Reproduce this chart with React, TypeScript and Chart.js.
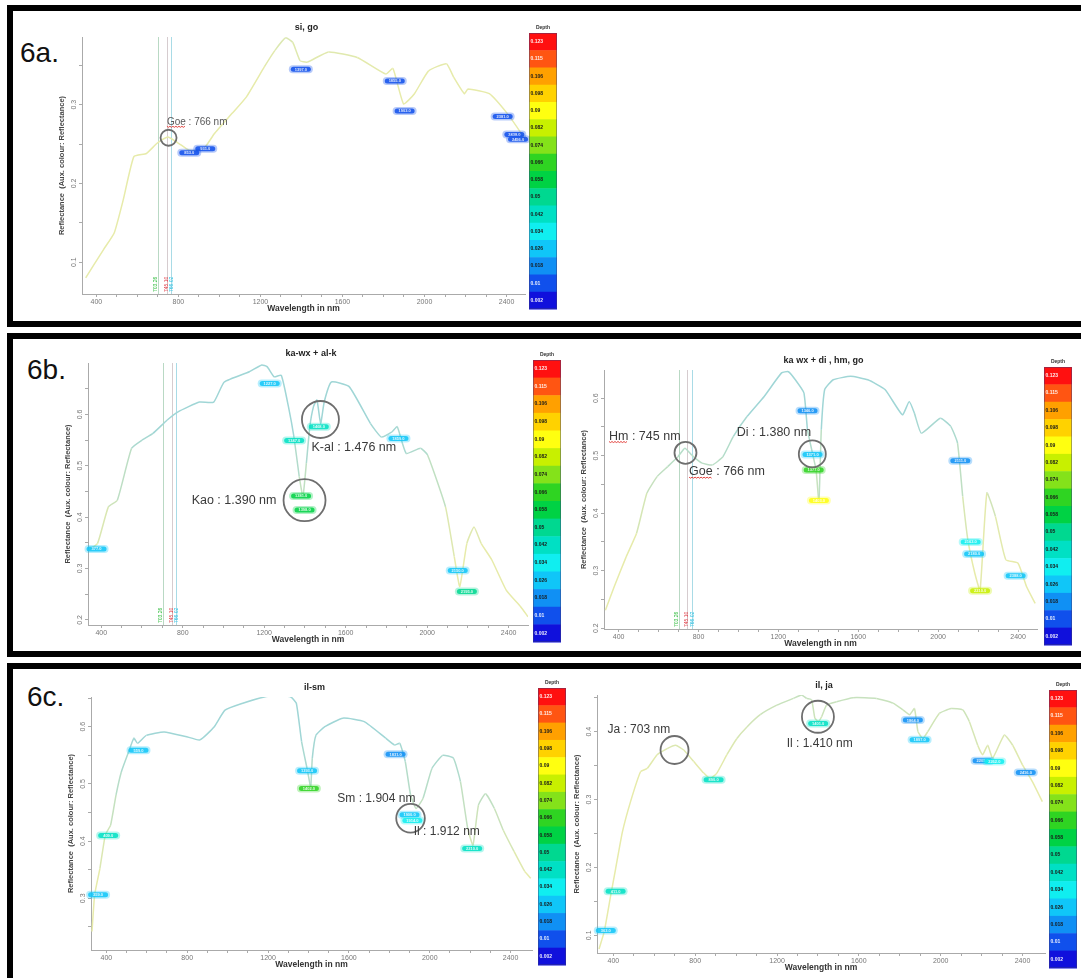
import React, { useEffect, useRef } from 'react';
import { Chart, registerables } from 'chart.js';

Chart.register(...registerables);

const FONT = "'Liberation Sans', Arial, Helvetica, sans-serif";

// ---------- shared axis / legend data ----------
const xTickValues = [400, 500, 600, 700, 800, 900, 1000, 1100, 1200, 1300, 1400, 1500, 1600, 1700, 1800, 1900, 2000, 2100, 2200, 2300, 2400];
const xLabelValues = [400, 800, 1200, 1600, 2000, 2400];

const depthLabels = ['0.123', '0.115', '0.106', '0.098', '0.09', '0.082', '0.074', '0.066', '0.058', '0.05', '0.042', '0.034', '0.026', '0.018', '0.01', '0.002'];
const depthValues = [0.123, 0.115, 0.106, 0.098, 0.09, 0.082, 0.074, 0.066, 0.058, 0.05, 0.042, 0.034, 0.026, 0.018, 0.01, 0.002];
const depthColors = ['#ff1010', '#ff5512', '#ffa000', '#ffd200', '#ffff10', '#c8f000', '#84e21a', '#2fd422', '#00d244', '#00d890', '#00e0c4', '#10eef0', '#10c6f8', '#1090f4', '#1050ec', '#1010dc'];

const vlineWaves = [703, 745, 766];
const vlineLabels = ['703.26', '745.10', '766.02'];
const vlineColors = ['#b9d9c4', '#d6cccf', '#a9dbe6'];
const vlineTextColors = ['#2dbb3a', '#e0303a', '#22bde0'];

// ---------- 6a : si, go ----------
const waveA = [348, 435, 487, 531, 583, 644, 696, 748, 801, 853, 923, 975, 1062, 1132, 1219, 1271, 1323, 1358, 1393, 1428, 1532, 1672, 1811, 1846, 1898, 1951, 2020, 2107, 2142, 2194, 2212, 2316, 2403, 2473, 2490];
const reflA = [0.080, 0.116, 0.137, 0.179, 0.234, 0.238, 0.251, 0.259, 0.251, 0.242, 0.244, 0.263, 0.289, 0.310, 0.348, 0.369, 0.385, 0.379, 0.356, 0.354, 0.367, 0.360, 0.339, 0.346, 0.301, 0.314, 0.343, 0.352, 0.335, 0.314, 0.320, 0.314, 0.289, 0.263, 0.255];
const featWaveA = [853, 931, 1397, 1855, 1903, 2381, 2438, 2456];
const featReflA = [0.239, 0.244, 0.345, 0.330, 0.292, 0.285, 0.262, 0.256];
const featDepthA = [0.01, 0.01, 0.01, 0.01, 0.01, 0.01, 0.01, 0.01];

// ---------- 6b left : ka-wx + al-k ----------
const waveBL = [339, 382, 435, 479, 549, 601, 654, 724, 777, 882, 952, 1004, 1127, 1188, 1214, 1249, 1284, 1319, 1346, 1372, 1390, 1407, 1424, 1442, 1459, 1477, 1495, 1530, 1617, 1722, 1775, 1827, 1853, 1897, 1967, 2002, 2090, 2133, 2160, 2195, 2230, 2265, 2317, 2388, 2458, 2495];
const reflBL = [0.336, 0.349, 0.420, 0.433, 0.534, 0.550, 0.563, 0.589, 0.605, 0.624, 0.624, 0.663, 0.683, 0.696, 0.693, 0.673, 0.676, 0.615, 0.556, 0.479, 0.440, 0.505, 0.576, 0.615, 0.628, 0.582, 0.625, 0.663, 0.654, 0.582, 0.556, 0.566, 0.576, 0.524, 0.534, 0.521, 0.420, 0.323, 0.265, 0.349, 0.381, 0.349, 0.317, 0.258, 0.226, 0.206];
const featWaveBL = [377, 1227, 1347, 1468, 1381, 1398, 1859, 2150, 2195];
const featReflBL = [0.338, 0.660, 0.549, 0.576, 0.441, 0.414, 0.553, 0.296, 0.255];
const featDepthBL = [0.026, 0.026, 0.042, 0.042, 0.058, 0.058, 0.026, 0.026, 0.05];

// ---------- 6b right : ka wx + di , hm, go ----------
const waveBR = [334, 378, 438, 490, 542, 594, 646, 697, 732, 766, 818, 870, 922, 974, 1043, 1129, 1216, 1250, 1285, 1328, 1346, 1371, 1389, 1403, 1415, 1432, 1475, 1562, 1648, 1734, 1821, 1855, 1881, 1916, 2011, 2063, 2097, 2123, 2149, 2184, 2210, 2244, 2287, 2339, 2400, 2443, 2486];
const reflBR = [0.231, 0.272, 0.324, 0.365, 0.435, 0.464, 0.481, 0.498, 0.513, 0.501, 0.487, 0.484, 0.498, 0.533, 0.568, 0.603, 0.644, 0.646, 0.632, 0.609, 0.545, 0.504, 0.475, 0.420, 0.545, 0.615, 0.632, 0.638, 0.632, 0.615, 0.571, 0.594, 0.574, 0.539, 0.565, 0.551, 0.522, 0.429, 0.353, 0.295, 0.266, 0.435, 0.394, 0.319, 0.313, 0.272, 0.243];
const featWaveBR = [1346, 1371, 1377, 1403, 2111, 2163, 2180, 2210, 2388];
const featReflBR = [0.578, 0.502, 0.475, 0.422, 0.491, 0.350, 0.329, 0.265, 0.291];
const featDepthBR = [0.018, 0.026, 0.066, 0.09, 0.018, 0.034, 0.026, 0.082, 0.026];

// ---------- 6c left : il-sm ----------
const waveCL = [329, 342, 368, 395, 421, 448, 474, 510, 536, 554, 598, 686, 792, 863, 934, 987, 1075, 1181, 1252, 1313, 1340, 1366, 1393, 1411, 1419, 1437, 1481, 1570, 1676, 1782, 1826, 1852, 1879, 1905, 1932, 1967, 2011, 2064, 2117, 2152, 2188, 2214, 2241, 2276, 2320, 2364, 2417, 2470, 2500];
const reflCL = [0.242, 0.306, 0.352, 0.411, 0.428, 0.481, 0.521, 0.556, 0.580, 0.571, 0.585, 0.591, 0.583, 0.577, 0.600, 0.629, 0.641, 0.652, 0.655, 0.652, 0.641, 0.574, 0.527, 0.495, 0.545, 0.585, 0.600, 0.615, 0.609, 0.580, 0.568, 0.571, 0.539, 0.481, 0.457, 0.475, 0.527, 0.550, 0.545, 0.504, 0.422, 0.393, 0.463, 0.483, 0.457, 0.419, 0.382, 0.347, 0.335];
const featWaveCL = [359, 409, 559, 1393, 1402, 1831, 1900, 1914, 2210];
const featReflCL = [0.306, 0.410, 0.559, 0.523, 0.492, 0.552, 0.446, 0.436, 0.387];
const featDepthCL = [0.026, 0.042, 0.026, 0.026, 0.066, 0.018, 0.026, 0.034, 0.042];

// ---------- 6c right : il, ja ----------
const waveCR = [330, 355, 387, 411, 444, 484, 533, 566, 614, 663, 704, 744, 793, 842, 874, 906, 955, 1004, 1053, 1118, 1199, 1280, 1320, 1345, 1369, 1385, 1401, 1418, 1442, 1491, 1572, 1686, 1767, 1816, 1848, 1872, 1889, 1913, 1937, 1994, 2051, 2108, 2140, 2181, 2205, 2230, 2254, 2311, 2352, 2400, 2449, 2497];
const reflCR = [0.080, 0.105, 0.159, 0.198, 0.252, 0.297, 0.341, 0.346, 0.366, 0.375, 0.380, 0.373, 0.356, 0.339, 0.331, 0.339, 0.366, 0.390, 0.407, 0.425, 0.439, 0.449, 0.454, 0.449, 0.447, 0.420, 0.415, 0.422, 0.439, 0.444, 0.450, 0.449, 0.442, 0.432, 0.425, 0.434, 0.400, 0.390, 0.400, 0.427, 0.434, 0.432, 0.415, 0.380, 0.366, 0.380, 0.361, 0.395, 0.380, 0.351, 0.326, 0.297];
const featWaveCR = [363, 411, 890, 1401, 1864, 1897, 2205, 2262, 2416];
const featReflCR = [0.107, 0.165, 0.329, 0.412, 0.417, 0.388, 0.357, 0.356, 0.340];
const featDepthCR = [0.026, 0.042, 0.042, 0.042, 0.018, 0.026, 0.018, 0.034, 0.018];

// ---------- tick lists ----------
const yTicksA = [0.1, 0.15, 0.2, 0.25, 0.3, 0.35];
const yLabA = [0.1, 0.2, 0.3];
const yTicksBL = [0.2, 0.25, 0.3, 0.35, 0.4, 0.45, 0.5, 0.55, 0.6, 0.65];
const yLabBL = [0.2, 0.3, 0.4, 0.5, 0.6];
const yTicksBR = [0.2, 0.25, 0.3, 0.35, 0.4, 0.45, 0.5, 0.55, 0.6];
const yLabBR = [0.2, 0.3, 0.4, 0.5, 0.6];
const yTicksCL = [0.25, 0.3, 0.35, 0.4, 0.45, 0.5, 0.55, 0.6, 0.65];
const yLabCL = [0.3, 0.4, 0.5, 0.6];
const yTicksCR = [0.1, 0.15, 0.2, 0.25, 0.3, 0.35, 0.4, 0.45];
const yLabCR = [0.1, 0.2, 0.3, 0.4];

type Note = { text: string; x: number; y: number; size: number; align?: 'left' | 'right'; squiggle?: number; color?: string };
type Ring = { x: number; y: number; r: number };
type Spec = {
  key: string;
  title: string;
  plot: [number, number, number, number];
  xRange: [number, number];
  yRange: [number, number];
  yTicks: number[];
  yLabels: number[];
  wave: number[];
  refl: number[];
  fWave: number[];
  fRefl: number[];
  fDepth: number[];
  vlines: boolean;
  notes: Note[];
  rings: Ring[];
  bar: [number, number, number, number];
};

const specs: Spec[] = [
  {
    key: 'a', title: 'si, go', plot: [82, 37, 525, 294], xRange: [330, 2490], yRange: [0.0595, 0.386],
    yTicks: yTicksA, yLabels: yLabA, wave: waveA, refl: reflA, fWave: featWaveA, fRefl: featReflA, fDepth: featDepthA,
    vlines: true,
    notes: [{ text: 'Goe : 766 nm', x: 744, y: 0.278, size: 10, squiggle: 3, color: '#5a5a5a' }],
    rings: [{ x: 752, y: 0.258, r: 8 }],
    bar: [529, 33, 28, 276],
  },
  {
    key: 'bl', title: 'ka-wx + al-k', plot: [88, 363, 528, 625], xRange: [335, 2495], yRange: [0.19, 0.70],
    yTicks: yTicksBL, yLabels: yLabBL, wave: waveBL, refl: reflBL, fWave: featWaveBL, fRefl: featReflBL, fDepth: featDepthBL,
    vlines: true,
    notes: [
      { text: 'K-al : 1.476 nm', x: 1432, y: 0.536, size: 12.5 },
      { text: 'Kao : 1.390 nm', x: 1260, y: 0.433, size: 12.5, align: 'right' },
    ],
    rings: [{ x: 1476, y: 0.590, r: 18.5 }, { x: 1398, y: 0.433, r: 21 }],
    bar: [533, 360, 28, 282],
  },
  {
    key: 'br', title: 'ka wx + di , hm, go', plot: [604, 370, 1037, 629], xRange: [327, 2495], yRange: [0.1985, 0.649],
    yTicks: yTicksBR, yLabels: yLabBR, wave: waveBR, refl: reflBR, fWave: featWaveBR, fRefl: featReflBR, fDepth: featDepthBR,
    vlines: true,
    notes: [
      { text: 'Hm : 745 nm', x: 352, y: 0.534, size: 12.5, squiggle: 2 },
      { text: 'Goe : 766 nm', x: 753, y: 0.472, size: 12.5, squiggle: 3 },
      { text: 'Di : 1.380 nm', x: 992, y: 0.540, size: 12.5 },
    ],
    rings: [{ x: 735, y: 0.505, r: 11 }, { x: 1370, y: 0.503, r: 13.5 }],
    bar: [1044, 367, 28, 278],
  },
  {
    key: 'cl', title: 'il-sm', plot: [91, 697, 532, 950], xRange: [324, 2506], yRange: [0.2096, 0.652],
    yTicks: yTicksCL, yLabels: yLabCL, wave: waveCL, refl: reflCL, fWave: featWaveCL, fRefl: featReflCL, fDepth: featDepthCL,
    vlines: false,
    notes: [
      { text: 'Sm : 1.904 nm', x: 1543, y: 0.475, size: 12 },
      { text: 'Il : 1.912 nm', x: 1921, y: 0.416, size: 12 },
    ],
    rings: [{ x: 1905, y: 0.44, r: 14.3 }],
    bar: [538, 688, 28, 277],
  },
  {
    key: 'cr', title: 'il, ja', plot: [597, 695, 1045, 953], xRange: [320, 2510], yRange: [0.074, 0.454],
    yTicks: yTicksCR, yLabels: yLabCR, wave: waveCR, refl: reflCR, fWave: featWaveCR, fRefl: featReflCR, fDepth: featDepthCR,
    vlines: false,
    notes: [
      { text: 'Ja : 703 nm', x: 371, y: 0.4025, size: 12 },
      { text: 'Il : 1.410 nm', x: 1247, y: 0.383, size: 12 },
    ],
    rings: [{ x: 699, y: 0.373, r: 14 }, { x: 1400, y: 0.422, r: 16 }],
    bar: [1049, 690, 28, 278],
  },
];

const panels = [
  { top: 5, h: 322, label: '6a.', lx: 20, ly: 39 },
  { top: 333, h: 324, label: '6b.', lx: 27, ly: 356 },
  { top: 663, h: 340, label: '6c.', lx: 27, ly: 683 },
];

function depthColor(d: number): string {
  let best = 0;
  let bd = Infinity;
  depthValues.forEach((v, i) => {
    const dd = Math.abs(v - d);
    if (dd < bd) { bd = dd; best = i; }
  });
  return depthColors[best];
}

function lineColor(v: number): string {
  const t = Math.max(0, Math.min(1, (v - 0.34) / 0.24));
  const a = [231, 235, 170];
  const b = [160, 214, 214];
  const c = a.map((x, i) => Math.round(x + (b[i] - x) * t));
  return `rgb(${c[0]},${c[1]},${c[2]})`;
}

function roundRect(ctx: CanvasRenderingContext2D, x: number, y: number, w: number, h: number, r: number) {
  ctx.beginPath();
  ctx.moveTo(x + r, y);
  ctx.arcTo(x + w, y, x + w, y + h, r);
  ctx.arcTo(x + w, y + h, x, y + h, r);
  ctx.arcTo(x, y + h, x, y, r);
  ctx.arcTo(x, y, x + w, y, r);
  ctx.closePath();
}

const AXW = 25;
const AXH = 20;
const PT = 36;
const PR = 42;

function SpectrumChart({ spec }: { spec: Spec }) {
  const ref = useRef<HTMLCanvasElement | null>(null);
  const [l, t, r, b] = spec.plot;
  const cLeft = l - AXW;
  const cTop = t - PT;
  const cW = r - l + AXW + PR;
  const cH = b - t + PT + AXH;

  useEffect(() => {
    const canvas = ref.current;
    if (!canvas) return;

    const overlay = {
      id: 'overlay_' + spec.key,
      beforeDatasetsDraw(chart: any) {
        if (!spec.vlines) return;
        const ctx: CanvasRenderingContext2D = chart.ctx;
        const xs = chart.scales.x;
        const area = chart.chartArea;
        ctx.save();
        vlineWaves.forEach((w, i) => {
          const px = Math.round(xs.getPixelForValue(w)) + 0.5;
          ctx.strokeStyle = vlineColors[i];
          ctx.lineWidth = 1;
          ctx.beginPath();
          ctx.moveTo(px, area.top);
          ctx.lineTo(px, area.bottom);
          ctx.stroke();
          ctx.save();
          ctx.translate(px - 2.5 + i * 1.5, area.bottom - 2);
          ctx.rotate(-Math.PI / 2);
          ctx.font = `5px ${FONT}`;
          ctx.fillStyle = vlineTextColors[i];
          ctx.textAlign = 'left';
          ctx.textBaseline = 'middle';
          ctx.fillText(vlineLabels[i], 0, 0);
          ctx.restore();
        });
        ctx.restore();
      },
      afterDatasetsDraw(chart: any) {
        const ctx: CanvasRenderingContext2D = chart.ctx;
        const xs = chart.scales.x;
        const ys = chart.scales.y;
        ctx.save();
        // absorption feature markers
        spec.fWave.forEach((w, i) => {
          const px = xs.getPixelForValue(w);
          const py = ys.getPixelForValue(spec.fRefl[i]);
          const col = depthColor(spec.fDepth[i]);
          ctx.globalAlpha = 0.3;
          ctx.fillStyle = col;
          roundRect(ctx, px - 12, py - 4, 24, 8, 4);
          ctx.fill();
          ctx.globalAlpha = 0.85;
          roundRect(ctx, px - 10, py - 2.5, 20, 5, 2.5);
          ctx.fill();
          ctx.globalAlpha = 1;
          ctx.fillStyle = 'rgba(255,255,255,0.85)';
          ctx.font = `bold 4px ${FONT}`;
          ctx.textAlign = 'center';
          ctx.textBaseline = 'middle';
          ctx.fillText(String(w) + '.0', px, py + 0.3);
        });
        // circles
        spec.rings.forEach((rg) => {
          const px = xs.getPixelForValue(rg.x);
          const py = ys.getPixelForValue(rg.y);
          ctx.strokeStyle = '#6e6e6e';
          ctx.lineWidth = 1.8;
          ctx.beginPath();
          ctx.arc(px, py, rg.r, 0, Math.PI * 2);
          ctx.stroke();
        });
        // annotation texts
        spec.notes.forEach((n) => {
          const px = xs.getPixelForValue(n.x);
          const py = ys.getPixelForValue(n.y);
          ctx.font = `${n.size}px ${FONT}`;
          ctx.fillStyle = n.color || '#3a3a3a';
          ctx.textAlign = n.align || 'left';
          ctx.textBaseline = 'middle';
          ctx.fillText(n.text, px, py);
          if (n.squiggle) {
            const wWord = ctx.measureText(n.text.slice(0, n.squiggle)).width;
            const x0 = n.align === 'right' ? px - ctx.measureText(n.text).width : px;
            const yb = py + n.size * 0.45;
            ctx.strokeStyle = '#e0302a';
            ctx.lineWidth = 0.9;
            ctx.beginPath();
            for (let k = 0; k <= wWord; k += 1.5) {
              const yy = yb + ((Math.round(k / 1.5) % 2) ? 0.8 : -0.2);
              if (k === 0) ctx.moveTo(x0 + k, yy);
              else ctx.lineTo(x0 + k, yy);
            }
            ctx.stroke();
          }
        });
        ctx.restore();
      },
      afterDraw(chart: any) {
        const ctx: CanvasRenderingContext2D = chart.ctx;
        const area = chart.chartArea;
        ctx.save();
        // title
        ctx.font = `bold 9px ${FONT}`;
        ctx.fillStyle = '#222';
        ctx.textAlign = 'center';
        ctx.textBaseline = 'middle';
        ctx.fillText(spec.title, (area.left + area.right) / 2 + 3, area.top - 9);
        // depth colour bar
        const [bx, by, bw, bh] = spec.bar;
        const x0 = bx - cLeft;
        const y0 = by - cTop;
        const ch = bh / depthColors.length;
        depthColors.forEach((c, i) => {
          ctx.fillStyle = c;
          ctx.fillRect(x0, y0 + i * ch, bw, ch + 0.5);
        });
        ctx.strokeStyle = 'rgba(60,60,120,0.45)';
        ctx.lineWidth = 1;
        ctx.strokeRect(x0 + 0.5, y0 + 0.5, bw - 1, bh - 1);
        ctx.font = `bold 5px ${FONT}`;
        ctx.textAlign = 'left';
        ctx.textBaseline = 'middle';
        depthLabels.forEach((lab, i) => {
          ctx.fillStyle = i <= 1 || i >= 14 ? 'rgba(255,255,255,0.9)' : '#1a1a1a';
          ctx.fillText(lab, x0 + 1.5, y0 + i * ch + ch / 2);
        });
        ctx.fillStyle = '#333';
        ctx.textAlign = 'center';
        ctx.fillText('Depth', x0 + bw / 2, y0 - 5);
        ctx.restore();
      },
    };

    const isLabel = (list: number[], v: number) => list.some((m) => Math.abs(m - v) < 1e-9);

    const chart = new Chart(canvas, {
      type: 'line',
      data: {
        datasets: [
          {
            data: spec.wave.map((w, i) => ({ x: w, y: spec.refl[i] })),
            borderColor: lineColor(0.4),
            borderWidth: 1.5,
            pointRadius: 0,
            tension: 0.15,
            fill: false,
            segment: {
              borderColor: (c: any) => lineColor((c.p0.parsed.y + c.p1.parsed.y) / 2),
            },
          } as any,
        ],
      },
      options: {
        responsive: false,
        animation: false,
        events: [],
        layout: { padding: { top: PT, right: PR, left: 0, bottom: 0 }, autoPadding: false } as any,
        plugins: { legend: { display: false }, tooltip: { enabled: false }, title: { display: false } },
        scales: {
          x: {
            type: 'linear',
            min: spec.xRange[0],
            max: spec.xRange[1],
            afterBuildTicks: (s: any) => { s.ticks = xTickValues.map((v) => ({ value: v })); },
            afterFit: (s: any) => { s.height = AXH; },
            ticks: {
              autoSkip: false,
              maxRotation: 0,
              minRotation: 0,
              padding: 1,
              color: '#777',
              font: { family: FONT, size: 7 },
              callback: (v: any) => (xLabelValues.includes(Number(v)) ? String(v) : ''),
            },
            grid: { drawOnChartArea: false, drawTicks: true, tickLength: 3, color: '#aaa' },
            border: { display: true, color: '#aaa' },
            title: { display: true, text: 'Wavelength in nm', color: '#333', font: { family: FONT, size: 8.5, weight: 'bold' }, padding: { top: 0, bottom: 0 } },
          },
          y: {
            type: 'linear',
            min: spec.yRange[0],
            max: spec.yRange[1],
            afterBuildTicks: (s: any) => { s.ticks = spec.yTicks.map((v) => ({ value: v })); },
            afterFit: (s: any) => { s.width = AXW; },
            ticks: {
              autoSkip: false,
              minRotation: 90,
              maxRotation: 90,
              crossAlign: 'center',
              padding: 0,
              color: '#777',
              font: { family: FONT, size: 7 },
              callback: (v: any) => (isLabel(spec.yLabels, Number(v)) ? String(Number(v)) : ''),
            },
            grid: { drawOnChartArea: false, drawTicks: true, tickLength: 3, color: '#aaa' },
            border: { display: true, color: '#aaa' },
            title: { display: true, text: 'Reflectance  (Aux. colour: Reflectance)', color: '#444', font: { family: FONT, size: 7.5, weight: 'bold' }, padding: { top: 0, bottom: 0 } },
          },
        },
      } as any,
      plugins: [overlay],
    });
    return () => chart.destroy();
  }, [spec]);

  return (
    <canvas
      ref={ref}
      width={cW}
      height={cH}
      style={{ position: 'absolute', left: cLeft, top: cTop, width: cW, height: cH }}
    />
  );
}

export default function App() {
  return (
    <div
      style={{
        position: 'absolute',
        left: 0,
        top: 0,
        width: 1081,
        height: 978,
        overflow: 'hidden',
        background: '#fff',
        fontFamily: FONT,
      }}
    >
      {panels.map((p) => (
        <div
          key={p.label}
          style={{
            position: 'absolute',
            left: 7,
            top: p.top,
            width: 1200,
            height: p.h,
            border: '6px solid #000',
            boxSizing: 'border-box',
          }}
        />
      ))}
      {panels.map((p) => (
        <div
          key={'l' + p.label}
          style={{
            position: 'absolute',
            left: p.lx,
            top: p.ly,
            fontSize: 28,
            lineHeight: '28px',
            color: '#111',
            fontFamily: FONT,
          }}
        >
          {p.label}
        </div>
      ))}
      {specs.map((s) => (
        <SpectrumChart key={s.key} spec={s} />
      ))}
    </div>
  );
}
